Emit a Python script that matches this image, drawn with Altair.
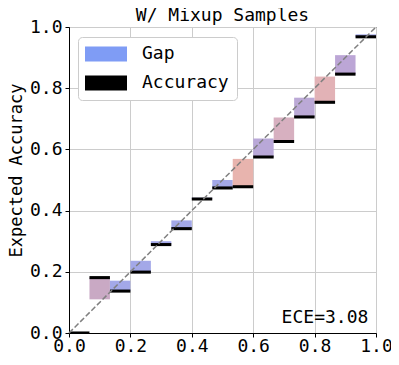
import altair as alt
import pandas as pd

# ---- data ----
n_bins = 15
accuracy = [0.0, 0.181, 0.137, 0.199, 0.289, 0.341, 0.438, 0.474, 0.478,
            0.575, 0.626, 0.706, 0.754, 0.846, 0.968]
confidence = [0.0, 0.110, 0.171, 0.236, 0.300, 0.368, 0.442, 0.500, 0.569,
              0.636, 0.704, 0.769, 0.838, 0.908, 0.976]
gap_colors = ["#a3a8e8", "#c9a9c4", "#a3a8e8", "#a3a8e8", "#a3a8e8", "#a3a8e8",
              "#a3a8e8", "#a3a8e8", "#e8b4ae", "#b9a8d8", "#d7b0c0", "#bba9d6",
              "#e2b2b6", "#bca6d6", "#a3a8e8"]
diag_x = [0.0, 1.0]
diag_y = [0.0, 1.0]
ece_text = "ECE=3.08"
title_text = "W/ Mixup Samples"
tick_vals = [0.0, 0.2, 0.4, 0.6, 0.8, 1.0]

FONT = "DejaVu Sans Mono"
bar_half = 0.005
W, H = 307, 306

df = pd.DataFrame({
    "lo": [i / n_bins for i in range(n_bins)],
    "hi": [(i + 1) / n_bins for i in range(n_bins)],
    "acc": accuracy,
    "conf": confidence,
    "gcol": gap_colors,
})
df["acc_lo"] = df["acc"] - bar_half
df["acc_hi"] = df["acc"] + bar_half
df["series"] = "Accuracy"

diag = pd.DataFrame({"x": diag_x, "y": diag_y})
ece = pd.DataFrame({"x": [0.975], "y": [0.032], "t": [ece_text]})
ttl = pd.DataFrame({"t": [title_text]})

xs = alt.Scale(domain=[0, 1], nice=False, zero=False)
ys = alt.Scale(domain=[0, 1], nice=False, zero=False)

xaxis = alt.Axis(values=tick_vals, format=".1f", title=None, labelPadding=0)
yaxis = alt.Axis(values=tick_vals, format=".1f", title="Expected Accuracy",
                 titleX=-47.5, titleY=143, titleBaseline="alphabetic",
                 titleFontSize=17)

gap = alt.Chart(df).mark_rect(clip=True).encode(
    x=alt.X("lo:Q", scale=xs, axis=xaxis),
    x2="hi:Q",
    y=alt.Y("conf:Q", scale=ys, axis=yaxis),
    y2="acc:Q",
    fill=alt.Fill("gcol:N", scale=None),
)

acc_bar = alt.Chart(df).mark_rect(clip=True).encode(
    x=alt.X("lo:Q", scale=xs),
    x2="hi:Q",
    y=alt.Y("acc_lo:Q", scale=ys),
    y2="acc_hi:Q",
    color=alt.Color(
        "series:N",
        scale=alt.Scale(domain=["Gap", "Accuracy"], range=["#7f9cf5", "#000000"]),
        title=None,
        legend=alt.Legend(
            orient="none", legendX=9, legendY=10,
            symbolType="M-2.8,-1H2.8V1H-2.8Z", symbolSize=225,
            symbolOffset=11, labelOffset=27,
            labelFont=FONT, labelFontSize=18, labelColor="black",
            fillColor="white", strokeColor="#cccccc", cornerRadius=4,
            padding=8, rowPadding=11, symbolStrokeWidth=0, symbolOpacity=1,
            labelExpr="datum.label + '  '",
        ),
    ),
)

line = alt.Chart(diag).mark_line(color="gray", strokeDash=[5.5, 2.4],
                                  strokeWidth=1.5).encode(
    x=alt.X("x:Q", scale=xs),
    y=alt.Y("y:Q", scale=ys),
)

txt = alt.Chart(ece).mark_text(align="right", baseline="alphabetic",
                               font=FONT, fontSize=18, color="black").encode(
    x=alt.X("x:Q", scale=xs),
    y=alt.Y("y:Q", scale=ys),
    text="t:N",
)

title_mark = alt.Chart(ttl).mark_text(align="center", baseline="alphabetic",
                                      font=FONT, fontSize=18, color="black").encode(
    x=alt.value(W / 2),
    y=alt.value(-6.3),
    text="t:N",
)

chart = alt.layer(gap, acc_bar, line, txt, title_mark).properties(
    width=W, height=H,
    autosize=alt.AutoSizeParams(type="none"),
    padding={"left": 61, "top": 19, "right": 15, "bottom": 23},
).configure_view(
    stroke="black", strokeWidth=1,
).configure_axis(
    grid=True, gridColor="#cccccc", gridWidth=1,
    domainColor="black", domainWidth=1,
    tickColor="black", tickSize=4, tickWidth=1,
    labelFont=FONT, labelFontSize=18, labelColor="black", labelPadding=3,
    titleFont=FONT, titleFontSize=18, titleColor="black", titleFontWeight="normal",
    labelFlush=False, labelOverlap=False,
)

chart.save("out.html", embed_options={"renderer": "svg", "actions": False})
